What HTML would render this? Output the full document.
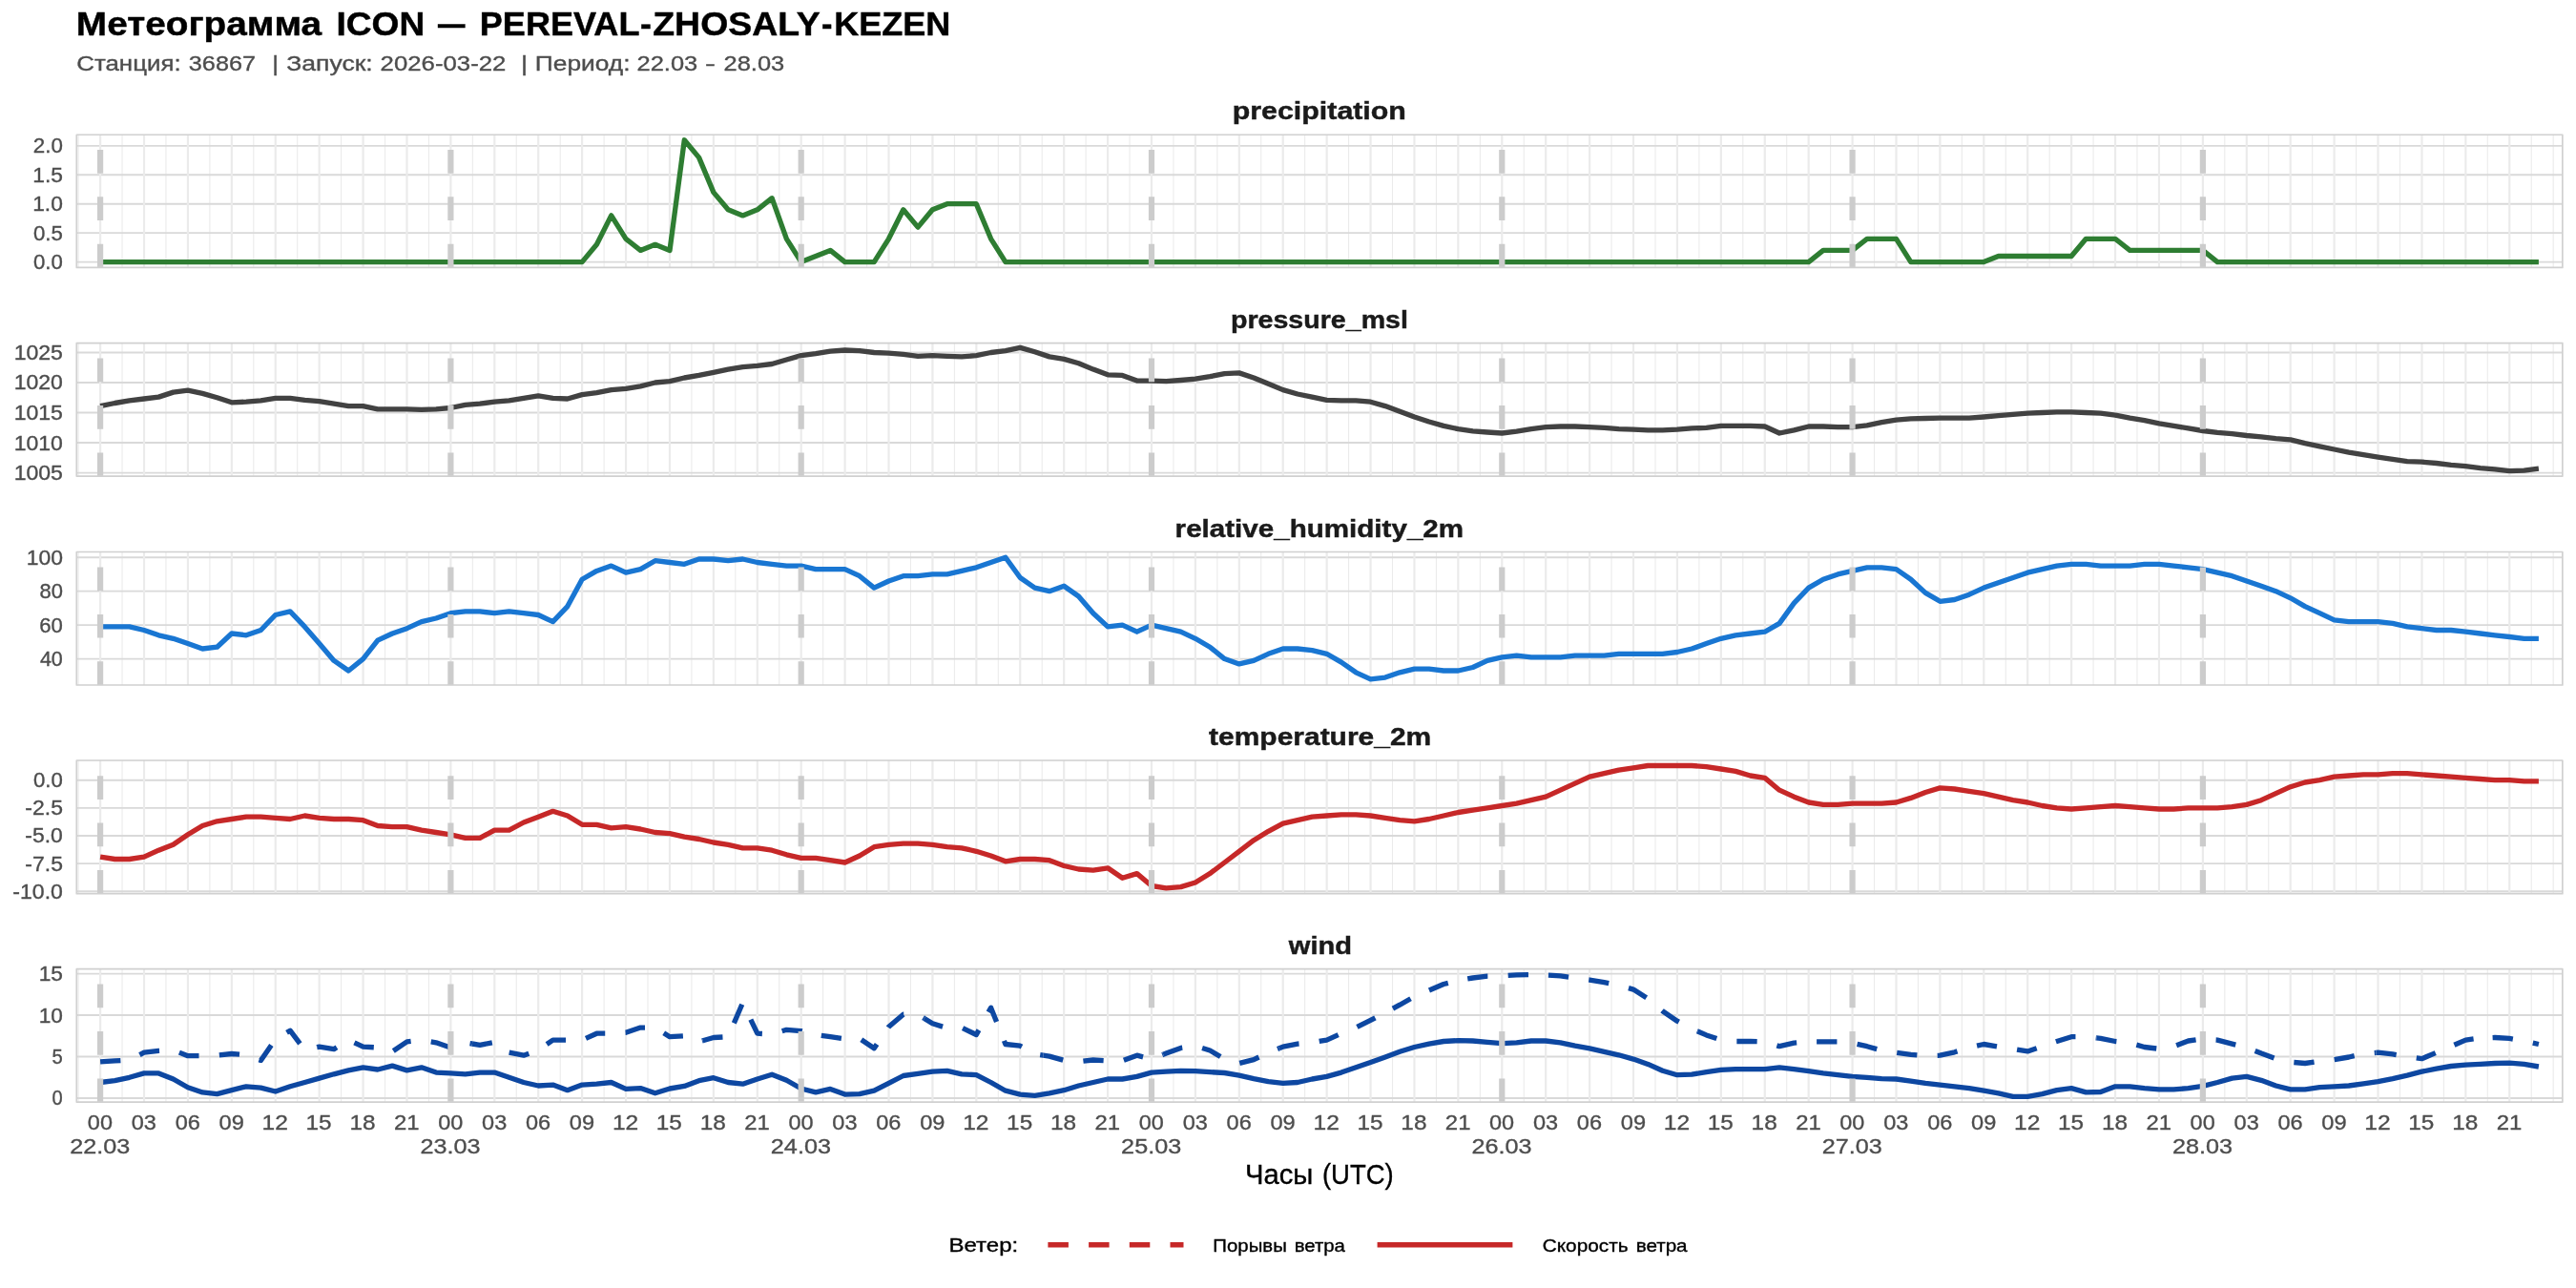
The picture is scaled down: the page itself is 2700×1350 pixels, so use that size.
<!DOCTYPE html>
<html lang="ru"><head><meta charset="utf-8"><title>Метеограмма ICON — PEREVAL-ZHOSALY-KEZEN</title>
<style>html,body{margin:0;padding:0;background:#fff;}body{width:2700px;height:1350px;overflow:hidden;}svg{display:block;will-change:transform;}text{font-family:"Liberation Sans", sans-serif;}</style></head><body>
<svg width="2700" height="1350" viewBox="0 0 2700 1350">
<rect x="0" y="0" width="2700" height="1350" fill="#ffffff"/>
<text x="79.88" y="36.70" font-size="35.30" font-weight="700" stroke="#000000" stroke-width="0.45" fill="#000000" textLength="257.28" lengthAdjust="spacingAndGlyphs">Метеограмма</text>
<text x="352.49" y="36.70" font-size="35.30" font-weight="700" stroke="#000000" stroke-width="0.45" fill="#000000" textLength="92.81" lengthAdjust="spacingAndGlyphs">ICON</text>
<text x="459.10" y="36.70" font-size="35.30" font-weight="700" stroke="#000000" stroke-width="0.45" fill="#000000" textLength="28.40" lengthAdjust="spacingAndGlyphs">—</text>
<text x="502.77" y="36.70" font-size="35.30" font-weight="700" stroke="#000000" stroke-width="0.45" fill="#000000" textLength="167.67" lengthAdjust="spacingAndGlyphs">PEREVAL</text>
<text x="671.07" y="36.70" font-size="35.30" font-weight="700" stroke="#000000" stroke-width="0.45" fill="#000000" textLength="11.87" lengthAdjust="spacingAndGlyphs">-</text>
<text x="684.28" y="36.70" font-size="35.30" font-weight="700" stroke="#000000" stroke-width="0.45" fill="#000000" textLength="175.33" lengthAdjust="spacingAndGlyphs">ZHOSALY</text>
<text x="861.12" y="36.70" font-size="35.30" font-weight="700" stroke="#000000" stroke-width="0.45" fill="#000000" textLength="11.47" lengthAdjust="spacingAndGlyphs">-</text>
<text x="874.17" y="36.70" font-size="35.30" font-weight="700" stroke="#000000" stroke-width="0.45" fill="#000000" textLength="122.24" lengthAdjust="spacingAndGlyphs">KEZEN</text>
<text x="80.21" y="73.90" font-size="22.10" stroke="#4D4D4D" stroke-width="0.35" fill="#4D4D4D" textLength="109.44" lengthAdjust="spacingAndGlyphs">Станция:</text>
<text x="197.85" y="73.90" font-size="22.10" stroke="#4D4D4D" stroke-width="0.35" fill="#4D4D4D" textLength="70.13" lengthAdjust="spacingAndGlyphs">36867</text>
<text x="285.34" y="73.90" font-size="22.10" stroke="#4D4D4D" stroke-width="0.35" fill="#4D4D4D" textLength="6.82" lengthAdjust="spacingAndGlyphs">|</text>
<text x="300.34" y="73.90" font-size="22.10" stroke="#4D4D4D" stroke-width="0.35" fill="#4D4D4D" textLength="90.37" lengthAdjust="spacingAndGlyphs">Запуск:</text>
<text x="398.61" y="73.90" font-size="22.10" stroke="#4D4D4D" stroke-width="0.35" fill="#4D4D4D" textLength="131.79" lengthAdjust="spacingAndGlyphs">2026-03-22</text>
<text x="546.02" y="73.90" font-size="22.10" stroke="#4D4D4D" stroke-width="0.35" fill="#4D4D4D" textLength="7.14" lengthAdjust="spacingAndGlyphs">|</text>
<text x="560.79" y="73.90" font-size="22.10" stroke="#4D4D4D" stroke-width="0.35" fill="#4D4D4D" textLength="99.79" lengthAdjust="spacingAndGlyphs">Период:</text>
<text x="667.53" y="73.90" font-size="22.10" stroke="#4D4D4D" stroke-width="0.35" fill="#4D4D4D" textLength="63.76" lengthAdjust="spacingAndGlyphs">22.03</text>
<text x="740.30" y="73.90" font-size="22.10" stroke="#4D4D4D" stroke-width="0.35" fill="#4D4D4D" textLength="8.42" lengthAdjust="spacingAndGlyphs">–</text>
<text x="758.53" y="73.90" font-size="22.10" stroke="#4D4D4D" stroke-width="0.35" fill="#4D4D4D" textLength="63.76" lengthAdjust="spacingAndGlyphs">28.03</text>
<g>
<clipPath id="cp0"><rect x="80.30" y="141.25" width="2605.55" height="139.20"/></clipPath>
<g clip-path="url(#cp0)">
<path d="M82.14 141.25V280.45M128.06 141.25V280.45M173.97 141.25V280.45M219.88 141.25V280.45M265.79 141.25V280.45M311.70 141.25V280.45M357.62 141.25V280.45M403.53 141.25V280.45M449.44 141.25V280.45M495.35 141.25V280.45M541.26 141.25V280.45M587.18 141.25V280.45M633.09 141.25V280.45M679.00 141.25V280.45M724.91 141.25V280.45M770.82 141.25V280.45M816.74 141.25V280.45M862.65 141.25V280.45M908.56 141.25V280.45M954.47 141.25V280.45M1000.38 141.25V280.45M1046.30 141.25V280.45M1092.21 141.25V280.45M1138.12 141.25V280.45M1184.03 141.25V280.45M1229.94 141.25V280.45M1275.86 141.25V280.45M1321.77 141.25V280.45M1367.68 141.25V280.45M1413.59 141.25V280.45M1459.50 141.25V280.45M1505.42 141.25V280.45M1551.33 141.25V280.45M1597.24 141.25V280.45M1643.15 141.25V280.45M1689.06 141.25V280.45M1734.98 141.25V280.45M1780.89 141.25V280.45M1826.80 141.25V280.45M1872.71 141.25V280.45M1918.62 141.25V280.45M1964.54 141.25V280.45M2010.45 141.25V280.45M2056.36 141.25V280.45M2102.27 141.25V280.45M2148.18 141.25V280.45M2194.10 141.25V280.45M2240.01 141.25V280.45M2285.92 141.25V280.45M2331.83 141.25V280.45M2377.74 141.25V280.45M2423.66 141.25V280.45M2469.57 141.25V280.45M2515.48 141.25V280.45M2561.39 141.25V280.45M2607.30 141.25V280.45M2653.22 141.25V280.45M2676.17 141.25V280.45" stroke="#EBEBEB" stroke-width="1.1" fill="none"/>
<path d="M80.30 274.60H2685.85M80.30 244.17H2685.85M80.30 213.74H2685.85M80.30 183.31H2685.85M80.30 152.88H2685.85" stroke="#D9D9D9" stroke-width="1.9" fill="none"/>
<path d="M105.10 141.25V280.45M151.01 141.25V280.45M196.92 141.25V280.45M242.84 141.25V280.45M288.75 141.25V280.45M334.66 141.25V280.45M380.57 141.25V280.45M426.48 141.25V280.45M472.40 141.25V280.45M518.31 141.25V280.45M564.22 141.25V280.45M610.13 141.25V280.45M656.04 141.25V280.45M701.96 141.25V280.45M747.87 141.25V280.45M793.78 141.25V280.45M839.69 141.25V280.45M885.60 141.25V280.45M931.52 141.25V280.45M977.43 141.25V280.45M1023.34 141.25V280.45M1069.25 141.25V280.45M1115.16 141.25V280.45M1161.08 141.25V280.45M1206.99 141.25V280.45M1252.90 141.25V280.45M1298.81 141.25V280.45M1344.72 141.25V280.45M1390.64 141.25V280.45M1436.55 141.25V280.45M1482.46 141.25V280.45M1528.37 141.25V280.45M1574.28 141.25V280.45M1620.20 141.25V280.45M1666.11 141.25V280.45M1712.02 141.25V280.45M1757.93 141.25V280.45M1803.84 141.25V280.45M1849.76 141.25V280.45M1895.67 141.25V280.45M1941.58 141.25V280.45M1987.49 141.25V280.45M2033.40 141.25V280.45M2079.32 141.25V280.45M2125.23 141.25V280.45M2171.14 141.25V280.45M2217.05 141.25V280.45M2262.96 141.25V280.45M2308.88 141.25V280.45M2354.79 141.25V280.45M2400.70 141.25V280.45M2446.61 141.25V280.45M2492.52 141.25V280.45M2538.44 141.25V280.45M2584.35 141.25V280.45M2630.26 141.25V280.45" stroke="#EBEBEB" stroke-width="2.2" fill="none"/>
<polyline points="105.1,274.6 120.4,274.6 135.7,274.6 151.0,274.6 166.3,274.6 181.6,274.6 196.9,274.6 212.2,274.6 227.5,274.6 242.8,274.6 258.1,274.6 273.4,274.6 288.7,274.6 304.1,274.6 319.4,274.6 334.7,274.6 350.0,274.6 365.3,274.6 380.6,274.6 395.9,274.6 411.2,274.6 426.5,274.6 441.8,274.6 457.1,274.6 472.4,274.6 487.7,274.6 503.0,274.6 518.3,274.6 533.6,274.6 548.9,274.6 564.2,274.6 579.5,274.6 594.8,274.6 610.1,274.6 625.4,256.3 640.7,225.9 656.0,250.3 671.3,262.4 686.7,256.3 702.0,262.4 717.3,146.8 732.6,165.1 747.9,201.6 763.2,219.8 778.5,225.9 793.8,219.8 809.1,207.7 824.4,250.3 839.7,274.6 855.0,268.5 870.3,262.4 885.6,274.6 900.9,274.6 916.2,274.6 931.5,250.3 946.8,219.8 962.1,238.1 977.4,219.8 992.7,213.7 1008.0,213.7 1023.3,213.7 1038.6,250.3 1053.9,274.6 1069.3,274.6 1084.6,274.6 1099.9,274.6 1115.2,274.6 1130.5,274.6 1145.8,274.6 1161.1,274.6 1176.4,274.6 1191.7,274.6 1207.0,274.6 1222.3,274.6 1237.6,274.6 1252.9,274.6 1268.2,274.6 1283.5,274.6 1298.8,274.6 1314.1,274.6 1329.4,274.6 1344.7,274.6 1360.0,274.6 1375.3,274.6 1390.6,274.6 1405.9,274.6 1421.2,274.6 1436.5,274.6 1451.9,274.6 1467.2,274.6 1482.5,274.6 1497.8,274.6 1513.1,274.6 1528.4,274.6 1543.7,274.6 1559.0,274.6 1574.3,274.6 1589.6,274.6 1604.9,274.6 1620.2,274.6 1635.5,274.6 1650.8,274.6 1666.1,274.6 1681.4,274.6 1696.7,274.6 1712.0,274.6 1727.3,274.6 1742.6,274.6 1757.9,274.6 1773.2,274.6 1788.5,274.6 1803.8,274.6 1819.1,274.6 1834.5,274.6 1849.8,274.6 1865.1,274.6 1880.4,274.6 1895.7,274.6 1911.0,262.4 1926.3,262.4 1941.6,262.4 1956.9,250.3 1972.2,250.3 1987.5,250.3 2002.8,274.6 2018.1,274.6 2033.4,274.6 2048.7,274.6 2064.0,274.6 2079.3,274.6 2094.6,268.5 2109.9,268.5 2125.2,268.5 2140.5,268.5 2155.8,268.5 2171.1,268.5 2186.4,250.3 2201.7,250.3 2217.1,250.3 2232.4,262.4 2247.7,262.4 2263.0,262.4 2278.3,262.4 2293.6,262.4 2308.9,262.4 2324.2,274.6 2339.5,274.6 2354.8,274.6 2370.1,274.6 2385.4,274.6 2400.7,274.6 2416.0,274.6 2431.3,274.6 2446.6,274.6 2461.9,274.6 2477.2,274.6 2492.5,274.6 2507.8,274.6 2523.1,274.6 2538.4,274.6 2553.7,274.6 2569.0,274.6 2584.3,274.6 2599.7,274.6 2615.0,274.6 2630.3,274.6 2645.6,274.6 2660.9,274.6" fill="none" stroke="#2E7D32" stroke-width="5.33" stroke-linejoin="round" stroke-linecap="butt"/>
<path d="M105.10 280.45V141.25M472.40 280.45V141.25M839.69 280.45V141.25M1206.99 280.45V141.25M1574.28 280.45V141.25M1941.58 280.45V141.25M2308.88 280.45V141.25" stroke="#CCCCCC" stroke-width="6.2" stroke-dasharray="24.7 24.7" fill="none"/>
</g>
<rect x="80.30" y="141.25" width="2605.55" height="139.20" fill="none" stroke="#D0D0D0" stroke-width="1.7" stroke-linejoin="round"/>
<text x="1291.78" y="125.45" font-size="26.20" font-weight="700" stroke="#1A1A1A" stroke-width="0.45" fill="#1A1A1A" textLength="182.11" lengthAdjust="spacingAndGlyphs">precipitation</text>
<text x="35.01" y="282.05" font-size="21.40" stroke="#4D4D4D" stroke-width="0.35" fill="#4D4D4D" textLength="30.82" lengthAdjust="spacingAndGlyphs">0.0</text>
<text x="35.01" y="251.62" font-size="21.40" stroke="#4D4D4D" stroke-width="0.35" fill="#4D4D4D" textLength="30.88" lengthAdjust="spacingAndGlyphs">0.5</text>
<text x="34.19" y="221.19" font-size="21.40" stroke="#4D4D4D" stroke-width="0.35" fill="#4D4D4D" textLength="31.67" lengthAdjust="spacingAndGlyphs">1.0</text>
<text x="34.19" y="190.76" font-size="21.40" stroke="#4D4D4D" stroke-width="0.35" fill="#4D4D4D" textLength="31.73" lengthAdjust="spacingAndGlyphs">1.5</text>
<text x="34.78" y="160.33" font-size="21.40" stroke="#4D4D4D" stroke-width="0.35" fill="#4D4D4D" textLength="31.06" lengthAdjust="spacingAndGlyphs">2.0</text>
</g>
<g>
<clipPath id="cp1"><rect x="80.30" y="359.60" width="2605.55" height="139.50"/></clipPath>
<g clip-path="url(#cp1)">
<path d="M82.14 359.60V499.10M128.06 359.60V499.10M173.97 359.60V499.10M219.88 359.60V499.10M265.79 359.60V499.10M311.70 359.60V499.10M357.62 359.60V499.10M403.53 359.60V499.10M449.44 359.60V499.10M495.35 359.60V499.10M541.26 359.60V499.10M587.18 359.60V499.10M633.09 359.60V499.10M679.00 359.60V499.10M724.91 359.60V499.10M770.82 359.60V499.10M816.74 359.60V499.10M862.65 359.60V499.10M908.56 359.60V499.10M954.47 359.60V499.10M1000.38 359.60V499.10M1046.30 359.60V499.10M1092.21 359.60V499.10M1138.12 359.60V499.10M1184.03 359.60V499.10M1229.94 359.60V499.10M1275.86 359.60V499.10M1321.77 359.60V499.10M1367.68 359.60V499.10M1413.59 359.60V499.10M1459.50 359.60V499.10M1505.42 359.60V499.10M1551.33 359.60V499.10M1597.24 359.60V499.10M1643.15 359.60V499.10M1689.06 359.60V499.10M1734.98 359.60V499.10M1780.89 359.60V499.10M1826.80 359.60V499.10M1872.71 359.60V499.10M1918.62 359.60V499.10M1964.54 359.60V499.10M2010.45 359.60V499.10M2056.36 359.60V499.10M2102.27 359.60V499.10M2148.18 359.60V499.10M2194.10 359.60V499.10M2240.01 359.60V499.10M2285.92 359.60V499.10M2331.83 359.60V499.10M2377.74 359.60V499.10M2423.66 359.60V499.10M2469.57 359.60V499.10M2515.48 359.60V499.10M2561.39 359.60V499.10M2607.30 359.60V499.10M2653.22 359.60V499.10M2676.17 359.60V499.10" stroke="#EBEBEB" stroke-width="1.1" fill="none"/>
<path d="M80.30 495.60H2685.85M80.30 464.07H2685.85M80.30 432.54H2685.85M80.30 401.01H2685.85M80.30 369.48H2685.85" stroke="#D9D9D9" stroke-width="1.9" fill="none"/>
<path d="M105.10 359.60V499.10M151.01 359.60V499.10M196.92 359.60V499.10M242.84 359.60V499.10M288.75 359.60V499.10M334.66 359.60V499.10M380.57 359.60V499.10M426.48 359.60V499.10M472.40 359.60V499.10M518.31 359.60V499.10M564.22 359.60V499.10M610.13 359.60V499.10M656.04 359.60V499.10M701.96 359.60V499.10M747.87 359.60V499.10M793.78 359.60V499.10M839.69 359.60V499.10M885.60 359.60V499.10M931.52 359.60V499.10M977.43 359.60V499.10M1023.34 359.60V499.10M1069.25 359.60V499.10M1115.16 359.60V499.10M1161.08 359.60V499.10M1206.99 359.60V499.10M1252.90 359.60V499.10M1298.81 359.60V499.10M1344.72 359.60V499.10M1390.64 359.60V499.10M1436.55 359.60V499.10M1482.46 359.60V499.10M1528.37 359.60V499.10M1574.28 359.60V499.10M1620.20 359.60V499.10M1666.11 359.60V499.10M1712.02 359.60V499.10M1757.93 359.60V499.10M1803.84 359.60V499.10M1849.76 359.60V499.10M1895.67 359.60V499.10M1941.58 359.60V499.10M1987.49 359.60V499.10M2033.40 359.60V499.10M2079.32 359.60V499.10M2125.23 359.60V499.10M2171.14 359.60V499.10M2217.05 359.60V499.10M2262.96 359.60V499.10M2308.88 359.60V499.10M2354.79 359.60V499.10M2400.70 359.60V499.10M2446.61 359.60V499.10M2492.52 359.60V499.10M2538.44 359.60V499.10M2584.35 359.60V499.10M2630.26 359.60V499.10" stroke="#EBEBEB" stroke-width="2.2" fill="none"/>
<polyline points="105.1,425.6 120.4,422.5 135.7,419.9 151.0,418.0 166.3,416.1 181.6,411.1 196.9,409.2 212.2,412.4 227.5,416.8 242.8,421.8 258.1,421.2 273.4,419.9 288.7,417.4 304.1,417.4 319.4,419.3 334.7,420.6 350.0,423.1 365.3,425.6 380.6,425.6 395.9,428.8 411.2,428.8 426.5,428.8 441.8,429.4 457.1,428.8 472.4,427.5 487.7,424.3 503.0,423.1 518.3,421.2 533.6,419.9 548.9,417.4 564.2,414.9 579.5,417.4 594.8,418.0 610.1,413.6 625.4,411.7 640.7,408.6 656.0,407.3 671.3,404.8 686.7,401.0 702.0,399.7 717.3,396.0 732.6,393.4 747.9,390.3 763.2,387.1 778.5,384.6 793.8,383.4 809.1,381.5 824.4,377.0 839.7,372.6 855.0,370.7 870.3,368.2 885.6,367.0 900.9,367.6 916.2,369.5 931.5,370.1 946.8,371.4 962.1,373.3 977.4,372.6 992.7,373.3 1008.0,373.9 1023.3,372.6 1038.6,369.5 1053.9,367.6 1069.3,364.4 1084.6,368.8 1099.9,373.9 1115.2,376.4 1130.5,380.8 1145.8,387.1 1161.1,392.8 1176.4,393.4 1191.7,399.1 1207.0,399.1 1222.3,399.7 1237.6,398.5 1252.9,397.2 1268.2,394.7 1283.5,391.6 1298.8,390.9 1314.1,396.0 1329.4,402.3 1344.7,408.6 1360.0,413.0 1375.3,416.1 1390.6,419.3 1405.9,419.9 1421.2,419.9 1436.5,421.2 1451.9,425.6 1467.2,431.3 1482.5,437.0 1497.8,442.0 1513.1,446.4 1528.4,449.6 1543.7,451.8 1559.0,453.0 1574.3,454.0 1589.6,452.1 1604.9,449.6 1620.2,447.7 1635.5,447.0 1650.8,447.0 1666.1,447.7 1681.4,448.3 1696.7,449.6 1712.0,450.2 1727.3,450.8 1742.6,450.8 1757.9,450.2 1773.2,448.9 1788.5,448.3 1803.8,446.4 1819.1,446.4 1834.5,446.4 1849.8,447.0 1865.1,454.0 1880.4,450.8 1895.7,447.0 1911.0,447.0 1926.3,447.7 1941.6,447.7 1956.9,445.8 1972.2,442.6 1987.5,440.1 2002.8,438.8 2018.1,438.5 2033.4,438.2 2048.7,438.2 2064.0,438.2 2079.3,437.0 2094.6,435.7 2109.9,434.4 2125.2,433.2 2140.5,432.5 2155.8,431.9 2171.1,431.9 2186.4,432.5 2201.7,433.2 2217.1,435.1 2232.4,438.2 2247.7,440.7 2263.0,443.9 2278.3,446.4 2293.6,448.9 2308.9,451.5 2324.2,453.3 2339.5,454.6 2354.8,456.5 2370.1,457.8 2385.4,459.7 2400.7,460.9 2416.0,464.7 2431.3,467.9 2446.6,471.0 2461.9,474.2 2477.2,476.7 2492.5,479.2 2507.8,481.4 2523.1,483.6 2538.4,484.2 2553.7,485.5 2569.0,487.4 2584.3,488.7 2599.7,490.6 2615.0,491.8 2630.3,493.7 2645.6,493.1 2660.9,491.2" fill="none" stroke="#424242" stroke-width="5.33" stroke-linejoin="round" stroke-linecap="butt"/>
<path d="M105.10 499.10V359.60M472.40 499.10V359.60M839.69 499.10V359.60M1206.99 499.10V359.60M1574.28 499.10V359.60M1941.58 499.10V359.60M2308.88 499.10V359.60" stroke="#CCCCCC" stroke-width="6.2" stroke-dasharray="24.7 24.7" fill="none"/>
</g>
<rect x="80.30" y="359.60" width="2605.55" height="139.50" fill="none" stroke="#D0D0D0" stroke-width="1.7" stroke-linejoin="round"/>
<text x="1289.99" y="343.80" font-size="26.20" font-weight="700" stroke="#1A1A1A" stroke-width="0.45" fill="#1A1A1A" textLength="185.93" lengthAdjust="spacingAndGlyphs">pressure_msl</text>
<text x="14.67" y="503.05" font-size="21.40" stroke="#4D4D4D" stroke-width="0.35" fill="#4D4D4D" textLength="51.30" lengthAdjust="spacingAndGlyphs">1005</text>
<text x="14.67" y="471.52" font-size="21.40" stroke="#4D4D4D" stroke-width="0.35" fill="#4D4D4D" textLength="51.24" lengthAdjust="spacingAndGlyphs">1010</text>
<text x="14.67" y="439.99" font-size="21.40" stroke="#4D4D4D" stroke-width="0.35" fill="#4D4D4D" textLength="51.30" lengthAdjust="spacingAndGlyphs">1015</text>
<text x="14.67" y="408.46" font-size="21.40" stroke="#4D4D4D" stroke-width="0.35" fill="#4D4D4D" textLength="51.24" lengthAdjust="spacingAndGlyphs">1020</text>
<text x="14.67" y="376.93" font-size="21.40" stroke="#4D4D4D" stroke-width="0.35" fill="#4D4D4D" textLength="51.30" lengthAdjust="spacingAndGlyphs">1025</text>
</g>
<g>
<clipPath id="cp2"><rect x="80.30" y="578.50" width="2605.55" height="139.50"/></clipPath>
<g clip-path="url(#cp2)">
<path d="M82.14 578.50V718.00M128.06 578.50V718.00M173.97 578.50V718.00M219.88 578.50V718.00M265.79 578.50V718.00M311.70 578.50V718.00M357.62 578.50V718.00M403.53 578.50V718.00M449.44 578.50V718.00M495.35 578.50V718.00M541.26 578.50V718.00M587.18 578.50V718.00M633.09 578.50V718.00M679.00 578.50V718.00M724.91 578.50V718.00M770.82 578.50V718.00M816.74 578.50V718.00M862.65 578.50V718.00M908.56 578.50V718.00M954.47 578.50V718.00M1000.38 578.50V718.00M1046.30 578.50V718.00M1092.21 578.50V718.00M1138.12 578.50V718.00M1184.03 578.50V718.00M1229.94 578.50V718.00M1275.86 578.50V718.00M1321.77 578.50V718.00M1367.68 578.50V718.00M1413.59 578.50V718.00M1459.50 578.50V718.00M1505.42 578.50V718.00M1551.33 578.50V718.00M1597.24 578.50V718.00M1643.15 578.50V718.00M1689.06 578.50V718.00M1734.98 578.50V718.00M1780.89 578.50V718.00M1826.80 578.50V718.00M1872.71 578.50V718.00M1918.62 578.50V718.00M1964.54 578.50V718.00M2010.45 578.50V718.00M2056.36 578.50V718.00M2102.27 578.50V718.00M2148.18 578.50V718.00M2194.10 578.50V718.00M2240.01 578.50V718.00M2285.92 578.50V718.00M2331.83 578.50V718.00M2377.74 578.50V718.00M2423.66 578.50V718.00M2469.57 578.50V718.00M2515.48 578.50V718.00M2561.39 578.50V718.00M2607.30 578.50V718.00M2653.22 578.50V718.00M2676.17 578.50V718.00" stroke="#EBEBEB" stroke-width="1.1" fill="none"/>
<path d="M80.30 690.60H2685.85M80.30 655.13H2685.85M80.30 619.66H2685.85M80.30 584.19H2685.85" stroke="#D9D9D9" stroke-width="1.9" fill="none"/>
<path d="M105.10 578.50V718.00M151.01 578.50V718.00M196.92 578.50V718.00M242.84 578.50V718.00M288.75 578.50V718.00M334.66 578.50V718.00M380.57 578.50V718.00M426.48 578.50V718.00M472.40 578.50V718.00M518.31 578.50V718.00M564.22 578.50V718.00M610.13 578.50V718.00M656.04 578.50V718.00M701.96 578.50V718.00M747.87 578.50V718.00M793.78 578.50V718.00M839.69 578.50V718.00M885.60 578.50V718.00M931.52 578.50V718.00M977.43 578.50V718.00M1023.34 578.50V718.00M1069.25 578.50V718.00M1115.16 578.50V718.00M1161.08 578.50V718.00M1206.99 578.50V718.00M1252.90 578.50V718.00M1298.81 578.50V718.00M1344.72 578.50V718.00M1390.64 578.50V718.00M1436.55 578.50V718.00M1482.46 578.50V718.00M1528.37 578.50V718.00M1574.28 578.50V718.00M1620.20 578.50V718.00M1666.11 578.50V718.00M1712.02 578.50V718.00M1757.93 578.50V718.00M1803.84 578.50V718.00M1849.76 578.50V718.00M1895.67 578.50V718.00M1941.58 578.50V718.00M1987.49 578.50V718.00M2033.40 578.50V718.00M2079.32 578.50V718.00M2125.23 578.50V718.00M2171.14 578.50V718.00M2217.05 578.50V718.00M2262.96 578.50V718.00M2308.88 578.50V718.00M2354.79 578.50V718.00M2400.70 578.50V718.00M2446.61 578.50V718.00M2492.52 578.50V718.00M2538.44 578.50V718.00M2584.35 578.50V718.00M2630.26 578.50V718.00" stroke="#EBEBEB" stroke-width="2.2" fill="none"/>
<polyline points="105.1,656.9 120.4,656.9 135.7,656.9 151.0,660.5 166.3,665.8 181.6,669.3 196.9,674.6 212.2,680.0 227.5,678.2 242.8,664.0 258.1,665.8 273.4,660.5 288.7,644.5 304.1,640.9 319.4,656.9 334.7,674.6 350.0,692.4 365.3,703.0 380.6,690.6 395.9,671.1 411.2,664.0 426.5,658.7 441.8,651.6 457.1,648.0 472.4,642.7 487.7,640.9 503.0,640.9 518.3,642.7 533.6,640.9 548.9,642.7 564.2,644.5 579.5,651.6 594.8,635.6 610.1,607.2 625.4,598.4 640.7,593.1 656.0,600.2 671.3,596.6 686.7,587.7 702.0,589.5 717.3,591.3 732.6,586.0 747.9,586.0 763.2,587.7 778.5,586.0 793.8,589.5 809.1,591.3 824.4,593.1 839.7,593.1 855.0,596.6 870.3,596.6 885.6,596.6 900.9,603.7 916.2,616.1 931.5,609.0 946.8,603.7 962.1,603.7 977.4,601.9 992.7,601.9 1008.0,598.4 1023.3,594.8 1038.6,589.5 1053.9,584.2 1069.3,605.5 1084.6,616.1 1099.9,619.7 1115.2,614.3 1130.5,625.0 1145.8,642.7 1161.1,656.9 1176.4,655.1 1191.7,662.2 1207.0,655.1 1222.3,658.7 1237.6,662.2 1252.9,669.3 1268.2,678.2 1283.5,690.6 1298.8,695.9 1314.1,692.4 1329.4,685.3 1344.7,680.0 1360.0,680.0 1375.3,681.7 1390.6,685.3 1405.9,694.1 1421.2,704.8 1436.5,711.9 1451.9,710.1 1467.2,704.8 1482.5,701.2 1497.8,701.2 1513.1,703.0 1528.4,703.0 1543.7,699.5 1559.0,692.4 1574.3,688.8 1589.6,687.1 1604.9,688.8 1620.2,688.8 1635.5,688.8 1650.8,687.1 1666.1,687.1 1681.4,687.1 1696.7,685.3 1712.0,685.3 1727.3,685.3 1742.6,685.3 1757.9,683.5 1773.2,680.0 1788.5,674.6 1803.8,669.3 1819.1,665.8 1834.5,664.0 1849.8,662.2 1865.1,653.4 1880.4,632.1 1895.7,616.1 1911.0,607.2 1926.3,601.9 1941.6,598.4 1956.9,594.8 1972.2,594.8 1987.5,596.6 2002.8,607.2 2018.1,621.4 2033.4,630.3 2048.7,628.5 2064.0,623.2 2079.3,616.1 2094.6,610.8 2109.9,605.5 2125.2,600.2 2140.5,596.6 2155.8,593.1 2171.1,591.3 2186.4,591.3 2201.7,593.1 2217.1,593.1 2232.4,593.1 2247.7,591.3 2263.0,591.3 2278.3,593.1 2293.6,594.8 2308.9,596.6 2324.2,600.2 2339.5,603.7 2354.8,609.0 2370.1,614.3 2385.4,619.7 2400.7,626.8 2416.0,635.6 2431.3,642.7 2446.6,649.8 2461.9,651.6 2477.2,651.6 2492.5,651.6 2507.8,653.4 2523.1,656.9 2538.4,658.7 2553.7,660.5 2569.0,660.5 2584.3,662.2 2599.7,664.0 2615.0,665.8 2630.3,667.5 2645.6,669.3 2660.9,669.3" fill="none" stroke="#1976D2" stroke-width="5.33" stroke-linejoin="round" stroke-linecap="butt"/>
<path d="M105.10 718.00V578.50M472.40 718.00V578.50M839.69 718.00V578.50M1206.99 718.00V578.50M1574.28 718.00V578.50M1941.58 718.00V578.50M2308.88 718.00V578.50" stroke="#CCCCCC" stroke-width="6.2" stroke-dasharray="24.7 24.7" fill="none"/>
</g>
<rect x="80.30" y="578.50" width="2605.55" height="139.50" fill="none" stroke="#D0D0D0" stroke-width="1.7" stroke-linejoin="round"/>
<text x="1231.63" y="562.70" font-size="26.20" font-weight="700" stroke="#1A1A1A" stroke-width="0.45" fill="#1A1A1A" textLength="302.45" lengthAdjust="spacingAndGlyphs">relative_humidity_2m</text>
<text x="41.92" y="698.05" font-size="21.40" stroke="#4D4D4D" stroke-width="0.35" fill="#4D4D4D" textLength="23.94" lengthAdjust="spacingAndGlyphs">40</text>
<text x="41.29" y="662.58" font-size="21.40" stroke="#4D4D4D" stroke-width="0.35" fill="#4D4D4D" textLength="24.59" lengthAdjust="spacingAndGlyphs">60</text>
<text x="41.47" y="627.11" font-size="21.40" stroke="#4D4D4D" stroke-width="0.35" fill="#4D4D4D" textLength="24.41" lengthAdjust="spacingAndGlyphs">80</text>
<text x="27.68" y="591.64" font-size="21.40" stroke="#4D4D4D" stroke-width="0.35" fill="#4D4D4D" textLength="38.20" lengthAdjust="spacingAndGlyphs">100</text>
</g>
<g>
<clipPath id="cp3"><rect x="80.30" y="797.00" width="2605.55" height="139.70"/></clipPath>
<g clip-path="url(#cp3)">
<path d="M82.14 797.00V936.70M128.06 797.00V936.70M173.97 797.00V936.70M219.88 797.00V936.70M265.79 797.00V936.70M311.70 797.00V936.70M357.62 797.00V936.70M403.53 797.00V936.70M449.44 797.00V936.70M495.35 797.00V936.70M541.26 797.00V936.70M587.18 797.00V936.70M633.09 797.00V936.70M679.00 797.00V936.70M724.91 797.00V936.70M770.82 797.00V936.70M816.74 797.00V936.70M862.65 797.00V936.70M908.56 797.00V936.70M954.47 797.00V936.70M1000.38 797.00V936.70M1046.30 797.00V936.70M1092.21 797.00V936.70M1138.12 797.00V936.70M1184.03 797.00V936.70M1229.94 797.00V936.70M1275.86 797.00V936.70M1321.77 797.00V936.70M1367.68 797.00V936.70M1413.59 797.00V936.70M1459.50 797.00V936.70M1505.42 797.00V936.70M1551.33 797.00V936.70M1597.24 797.00V936.70M1643.15 797.00V936.70M1689.06 797.00V936.70M1734.98 797.00V936.70M1780.89 797.00V936.70M1826.80 797.00V936.70M1872.71 797.00V936.70M1918.62 797.00V936.70M1964.54 797.00V936.70M2010.45 797.00V936.70M2056.36 797.00V936.70M2102.27 797.00V936.70M2148.18 797.00V936.70M2194.10 797.00V936.70M2240.01 797.00V936.70M2285.92 797.00V936.70M2331.83 797.00V936.70M2377.74 797.00V936.70M2423.66 797.00V936.70M2469.57 797.00V936.70M2515.48 797.00V936.70M2561.39 797.00V936.70M2607.30 797.00V936.70M2653.22 797.00V936.70M2676.17 797.00V936.70" stroke="#EBEBEB" stroke-width="1.1" fill="none"/>
<path d="M80.30 934.30H2685.85M80.30 905.15H2685.85M80.30 876.00H2685.85M80.30 846.85H2685.85M80.30 817.70H2685.85" stroke="#D9D9D9" stroke-width="1.9" fill="none"/>
<path d="M105.10 797.00V936.70M151.01 797.00V936.70M196.92 797.00V936.70M242.84 797.00V936.70M288.75 797.00V936.70M334.66 797.00V936.70M380.57 797.00V936.70M426.48 797.00V936.70M472.40 797.00V936.70M518.31 797.00V936.70M564.22 797.00V936.70M610.13 797.00V936.70M656.04 797.00V936.70M701.96 797.00V936.70M747.87 797.00V936.70M793.78 797.00V936.70M839.69 797.00V936.70M885.60 797.00V936.70M931.52 797.00V936.70M977.43 797.00V936.70M1023.34 797.00V936.70M1069.25 797.00V936.70M1115.16 797.00V936.70M1161.08 797.00V936.70M1206.99 797.00V936.70M1252.90 797.00V936.70M1298.81 797.00V936.70M1344.72 797.00V936.70M1390.64 797.00V936.70M1436.55 797.00V936.70M1482.46 797.00V936.70M1528.37 797.00V936.70M1574.28 797.00V936.70M1620.20 797.00V936.70M1666.11 797.00V936.70M1712.02 797.00V936.70M1757.93 797.00V936.70M1803.84 797.00V936.70M1849.76 797.00V936.70M1895.67 797.00V936.70M1941.58 797.00V936.70M1987.49 797.00V936.70M2033.40 797.00V936.70M2079.32 797.00V936.70M2125.23 797.00V936.70M2171.14 797.00V936.70M2217.05 797.00V936.70M2262.96 797.00V936.70M2308.88 797.00V936.70M2354.79 797.00V936.70M2400.70 797.00V936.70M2446.61 797.00V936.70M2492.52 797.00V936.70M2538.44 797.00V936.70M2584.35 797.00V936.70M2630.26 797.00V936.70" stroke="#EBEBEB" stroke-width="2.2" fill="none"/>
<polyline points="105.1,898.2 120.4,900.5 135.7,900.5 151.0,898.2 166.3,891.2 181.6,885.3 196.9,874.8 212.2,865.5 227.5,860.8 242.8,858.5 258.1,856.2 273.4,856.2 288.7,857.3 304.1,858.5 319.4,855.0 334.7,857.3 350.0,858.5 365.3,858.5 380.6,859.7 395.9,865.5 411.2,866.7 426.5,866.7 441.8,870.2 457.1,872.5 472.4,874.8 487.7,878.3 503.0,878.3 518.3,870.2 533.6,870.2 548.9,862.0 564.2,856.2 579.5,850.3 594.8,855.0 610.1,864.3 625.4,864.3 640.7,867.8 656.0,866.7 671.3,869.0 686.7,872.5 702.0,873.7 717.3,877.2 732.6,879.5 747.9,883.0 763.2,885.3 778.5,888.8 793.8,888.8 809.1,891.2 824.4,895.8 839.7,899.3 855.0,899.3 870.3,901.7 885.6,904.0 900.9,897.0 916.2,887.7 931.5,885.3 946.8,884.2 962.1,884.2 977.4,885.3 992.7,887.7 1008.0,888.8 1023.3,892.3 1038.6,897.0 1053.9,902.8 1069.3,900.5 1084.6,900.5 1099.9,901.7 1115.2,907.5 1130.5,911.0 1145.8,912.1 1161.1,909.8 1176.4,920.3 1191.7,915.6 1207.0,928.5 1222.3,930.8 1237.6,929.6 1252.9,925.0 1268.2,915.6 1283.5,904.0 1298.8,892.3 1314.1,880.7 1329.4,871.3 1344.7,863.2 1360.0,859.7 1375.3,856.2 1390.6,855.0 1405.9,853.8 1421.2,853.8 1436.5,855.0 1451.9,857.3 1467.2,859.7 1482.5,860.8 1497.8,858.5 1513.1,855.0 1528.4,851.5 1543.7,849.2 1559.0,846.9 1574.3,844.5 1589.6,842.2 1604.9,838.7 1620.2,835.2 1635.5,828.2 1650.8,821.2 1666.1,814.2 1681.4,810.7 1696.7,807.2 1712.0,804.9 1727.3,802.5 1742.6,802.5 1757.9,802.5 1773.2,802.5 1788.5,803.7 1803.8,806.0 1819.1,808.4 1834.5,813.0 1849.8,815.4 1865.1,828.2 1880.4,835.2 1895.7,841.0 1911.0,843.4 1926.3,843.4 1941.6,842.2 1956.9,842.2 1972.2,842.2 1987.5,841.0 2002.8,836.4 2018.1,830.5 2033.4,825.9 2048.7,827.0 2064.0,829.4 2079.3,831.7 2094.6,835.2 2109.9,838.7 2125.2,841.0 2140.5,844.5 2155.8,846.9 2171.1,848.0 2186.4,846.9 2201.7,845.7 2217.1,844.5 2232.4,845.7 2247.7,846.9 2263.0,848.0 2278.3,848.0 2293.6,846.9 2308.9,846.9 2324.2,846.9 2339.5,845.7 2354.8,843.4 2370.1,838.7 2385.4,831.7 2400.7,824.7 2416.0,820.0 2431.3,817.7 2446.6,814.2 2461.9,813.0 2477.2,811.9 2492.5,811.9 2507.8,810.7 2523.1,810.7 2538.4,811.9 2553.7,813.0 2569.0,814.2 2584.3,815.4 2599.7,816.5 2615.0,817.7 2630.3,817.7 2645.6,818.9 2660.9,818.9" fill="none" stroke="#C62828" stroke-width="5.33" stroke-linejoin="round" stroke-linecap="butt"/>
<path d="M105.10 936.70V797.00M472.40 936.70V797.00M839.69 936.70V797.00M1206.99 936.70V797.00M1574.28 936.70V797.00M1941.58 936.70V797.00M2308.88 936.70V797.00" stroke="#CCCCCC" stroke-width="6.2" stroke-dasharray="24.7 24.7" fill="none"/>
</g>
<rect x="80.30" y="797.00" width="2605.55" height="139.70" fill="none" stroke="#D0D0D0" stroke-width="1.7" stroke-linejoin="round"/>
<text x="1267.08" y="781.20" font-size="26.20" font-weight="700" stroke="#1A1A1A" stroke-width="0.45" fill="#1A1A1A" textLength="233.12" lengthAdjust="spacingAndGlyphs">temperature_2m</text>
<text x="13.36" y="941.75" font-size="21.40" stroke="#4D4D4D" stroke-width="0.35" fill="#4D4D4D" textLength="52.55" lengthAdjust="spacingAndGlyphs">-10.0</text>
<text x="26.37" y="912.60" font-size="21.40" stroke="#4D4D4D" stroke-width="0.35" fill="#4D4D4D" textLength="39.57" lengthAdjust="spacingAndGlyphs">-7.5</text>
<text x="26.37" y="883.45" font-size="21.40" stroke="#4D4D4D" stroke-width="0.35" fill="#4D4D4D" textLength="39.51" lengthAdjust="spacingAndGlyphs">-5.0</text>
<text x="26.37" y="854.30" font-size="21.40" stroke="#4D4D4D" stroke-width="0.35" fill="#4D4D4D" textLength="39.57" lengthAdjust="spacingAndGlyphs">-2.5</text>
<text x="35.01" y="825.15" font-size="21.40" stroke="#4D4D4D" stroke-width="0.35" fill="#4D4D4D" textLength="30.82" lengthAdjust="spacingAndGlyphs">0.0</text>
</g>
<g>
<clipPath id="cp4"><rect x="80.30" y="1015.60" width="2605.55" height="139.50"/></clipPath>
<g clip-path="url(#cp4)">
<path d="M82.14 1015.60V1155.10M128.06 1015.60V1155.10M173.97 1015.60V1155.10M219.88 1015.60V1155.10M265.79 1015.60V1155.10M311.70 1015.60V1155.10M357.62 1015.60V1155.10M403.53 1015.60V1155.10M449.44 1015.60V1155.10M495.35 1015.60V1155.10M541.26 1015.60V1155.10M587.18 1015.60V1155.10M633.09 1015.60V1155.10M679.00 1015.60V1155.10M724.91 1015.60V1155.10M770.82 1015.60V1155.10M816.74 1015.60V1155.10M862.65 1015.60V1155.10M908.56 1015.60V1155.10M954.47 1015.60V1155.10M1000.38 1015.60V1155.10M1046.30 1015.60V1155.10M1092.21 1015.60V1155.10M1138.12 1015.60V1155.10M1184.03 1015.60V1155.10M1229.94 1015.60V1155.10M1275.86 1015.60V1155.10M1321.77 1015.60V1155.10M1367.68 1015.60V1155.10M1413.59 1015.60V1155.10M1459.50 1015.60V1155.10M1505.42 1015.60V1155.10M1551.33 1015.60V1155.10M1597.24 1015.60V1155.10M1643.15 1015.60V1155.10M1689.06 1015.60V1155.10M1734.98 1015.60V1155.10M1780.89 1015.60V1155.10M1826.80 1015.60V1155.10M1872.71 1015.60V1155.10M1918.62 1015.60V1155.10M1964.54 1015.60V1155.10M2010.45 1015.60V1155.10M2056.36 1015.60V1155.10M2102.27 1015.60V1155.10M2148.18 1015.60V1155.10M2194.10 1015.60V1155.10M2240.01 1015.60V1155.10M2285.92 1015.60V1155.10M2331.83 1015.60V1155.10M2377.74 1015.60V1155.10M2423.66 1015.60V1155.10M2469.57 1015.60V1155.10M2515.48 1015.60V1155.10M2561.39 1015.60V1155.10M2607.30 1015.60V1155.10M2653.22 1015.60V1155.10M2676.17 1015.60V1155.10" stroke="#EBEBEB" stroke-width="1.1" fill="none"/>
<path d="M80.30 1151.00H2685.85M80.30 1107.54H2685.85M80.30 1064.07H2685.85M80.30 1020.61H2685.85" stroke="#D9D9D9" stroke-width="1.9" fill="none"/>
<path d="M105.10 1015.60V1155.10M151.01 1015.60V1155.10M196.92 1015.60V1155.10M242.84 1015.60V1155.10M288.75 1015.60V1155.10M334.66 1015.60V1155.10M380.57 1015.60V1155.10M426.48 1015.60V1155.10M472.40 1015.60V1155.10M518.31 1015.60V1155.10M564.22 1015.60V1155.10M610.13 1015.60V1155.10M656.04 1015.60V1155.10M701.96 1015.60V1155.10M747.87 1015.60V1155.10M793.78 1015.60V1155.10M839.69 1015.60V1155.10M885.60 1015.60V1155.10M931.52 1015.60V1155.10M977.43 1015.60V1155.10M1023.34 1015.60V1155.10M1069.25 1015.60V1155.10M1115.16 1015.60V1155.10M1161.08 1015.60V1155.10M1206.99 1015.60V1155.10M1252.90 1015.60V1155.10M1298.81 1015.60V1155.10M1344.72 1015.60V1155.10M1390.64 1015.60V1155.10M1436.55 1015.60V1155.10M1482.46 1015.60V1155.10M1528.37 1015.60V1155.10M1574.28 1015.60V1155.10M1620.20 1015.60V1155.10M1666.11 1015.60V1155.10M1712.02 1015.60V1155.10M1757.93 1015.60V1155.10M1803.84 1015.60V1155.10M1849.76 1015.60V1155.10M1895.67 1015.60V1155.10M1941.58 1015.60V1155.10M1987.49 1015.60V1155.10M2033.40 1015.60V1155.10M2079.32 1015.60V1155.10M2125.23 1015.60V1155.10M2171.14 1015.60V1155.10M2217.05 1015.60V1155.10M2262.96 1015.60V1155.10M2308.88 1015.60V1155.10M2354.79 1015.60V1155.10M2400.70 1015.60V1155.10M2446.61 1015.60V1155.10M2492.52 1015.60V1155.10M2538.44 1015.60V1155.10M2584.35 1015.60V1155.10M2630.26 1015.60V1155.10" stroke="#EBEBEB" stroke-width="2.2" fill="none"/>
<polyline points="105.1,1112.8 120.4,1111.9 135.7,1111.0 151.0,1103.2 166.3,1101.4 181.6,1100.6 196.9,1106.7 212.2,1106.7 227.5,1106.2 242.8,1104.5 258.1,1105.8 273.4,1111.4 288.7,1089.3 304.1,1080.2 319.4,1100.6 332.4,1097.6" fill="none" stroke="#0D47A1" stroke-width="5.33" stroke-linejoin="round" stroke-linecap="butt" stroke-dasharray="21.33 21.33"/>
<polyline points="332.4,1097.6 334.7,1097.1 350.0,1099.7 365.3,1090.1 380.6,1097.1 395.9,1098.0 411.2,1102.3 426.5,1091.9 441.8,1090.1 457.1,1092.8 472.4,1098.0 487.7,1092.8 494.9,1094.0" fill="none" stroke="#0D47A1" stroke-width="5.33" stroke-linejoin="round" stroke-linecap="butt" stroke-dasharray="21.33 21.33"/>
<polyline points="494.9,1094.0 503.0,1095.4 518.3,1092.3 533.6,1103.2 548.9,1106.2 564.2,1100.6 573.1,1094.5" fill="none" stroke="#0D47A1" stroke-width="5.33" stroke-linejoin="round" stroke-linecap="butt" stroke-dasharray="21.33 21.33"/>
<polyline points="573.1,1094.5 579.5,1090.1 594.8,1090.1 610.1,1090.1 625.4,1083.2 640.7,1083.2 656.0,1082.3 671.3,1077.1 686.7,1077.1 702.0,1086.7 717.3,1085.8 732.6,1091.9 736.6,1090.7" fill="none" stroke="#0D47A1" stroke-width="5.33" stroke-linejoin="round" stroke-linecap="butt" stroke-dasharray="21.33 21.33"/>
<polyline points="736.6,1090.7 747.9,1087.5 763.2,1086.7 778.5,1051.0 793.8,1083.2 809.1,1084.1 824.4,1079.3 839.7,1080.6 855.0,1084.5 860.8,1085.3" fill="none" stroke="#0D47A1" stroke-width="5.33" stroke-linejoin="round" stroke-linecap="butt" stroke-dasharray="21.33 21.33"/>
<polyline points="860.8,1085.3 870.3,1086.7 885.6,1088.8 900.9,1088.4 916.2,1098.8 931.5,1076.2 946.8,1063.2 962.1,1063.2 968.8,1067.4" fill="none" stroke="#0D47A1" stroke-width="5.33" stroke-linejoin="round" stroke-linecap="butt" stroke-dasharray="21.33 21.33"/>
<polyline points="968.8,1067.4 977.4,1072.8 992.7,1077.5 1008.0,1077.1 1023.3,1084.5 1038.6,1056.2 1053.9,1094.5 1069.3,1096.2 1084.6,1104.9 1093.5,1106.2" fill="none" stroke="#0D47A1" stroke-width="5.33" stroke-linejoin="round" stroke-linecap="butt" stroke-dasharray="21.33 21.33"/>
<polyline points="1093.5,1106.2 1099.9,1107.1 1115.2,1111.4 1130.5,1112.8 1145.8,1111.0 1161.1,1111.9 1176.4,1111.9 1191.7,1106.2 1207.0,1110.1 1219.2,1105.3" fill="none" stroke="#0D47A1" stroke-width="5.33" stroke-linejoin="round" stroke-linecap="butt" stroke-dasharray="21.33 21.33"/>
<polyline points="1219.2,1105.3 1222.3,1104.1 1237.6,1098.4 1252.9,1096.2 1268.2,1101.0 1283.5,1110.1 1298.8,1114.5 1314.1,1110.6 1329.4,1103.2 1340.8,1098.7" fill="none" stroke="#0D47A1" stroke-width="5.33" stroke-linejoin="round" stroke-linecap="butt" stroke-dasharray="21.33 21.33"/>
<polyline points="1340.8,1098.7 1344.7,1097.1 1360.0,1094.1 1375.3,1092.8 1390.6,1090.1 1405.9,1083.2 1421.2,1077.1 1436.5,1069.3 1451.9,1061.5 1459.9,1057.1" fill="none" stroke="#0D47A1" stroke-width="5.33" stroke-linejoin="round" stroke-linecap="butt" stroke-dasharray="21.33 21.33"/>
<polyline points="1459.9,1057.1 1467.2,1053.2 1482.5,1044.5 1497.8,1038.0 1513.1,1031.5 1528.4,1027.6 1538.2,1025.9" fill="none" stroke="#0D47A1" stroke-width="5.33" stroke-linejoin="round" stroke-linecap="butt" stroke-dasharray="21.33 21.33"/>
<polyline points="1538.2,1025.9 1543.7,1025.0 1559.0,1023.2 1574.3,1022.8 1589.6,1021.9 1604.9,1021.5 1620.2,1021.9 1622.9,1022.1" fill="none" stroke="#0D47A1" stroke-width="5.33" stroke-linejoin="round" stroke-linecap="butt" stroke-dasharray="21.33 21.33"/>
<polyline points="1622.9,1022.1 1635.5,1022.8 1650.8,1025.0 1666.1,1027.1 1681.4,1029.7 1696.7,1032.8 1712.0,1037.1 1727.3,1046.7 1742.6,1059.7 1757.9,1070.2 1773.2,1078.4 1779.4,1081.0" fill="none" stroke="#0D47A1" stroke-width="5.33" stroke-linejoin="round" stroke-linecap="butt" stroke-dasharray="21.33 21.33"/>
<polyline points="1779.4,1081.0 1788.5,1084.9 1803.8,1090.1 1819.1,1091.5 1834.5,1091.5 1849.8,1091.9 1865.1,1096.7 1880.4,1093.2 1895.7,1091.9 1904.1,1091.9" fill="none" stroke="#0D47A1" stroke-width="5.33" stroke-linejoin="round" stroke-linecap="butt" stroke-dasharray="21.33 21.33"/>
<polyline points="1904.1,1091.9 1911.0,1091.9 1926.3,1091.9 1941.6,1093.2 1956.9,1096.7 1972.2,1101.0 1987.5,1103.2 2002.8,1105.4 2018.1,1106.7 2030.7,1106.3" fill="none" stroke="#0D47A1" stroke-width="5.33" stroke-linejoin="round" stroke-linecap="butt" stroke-dasharray="21.33 21.33"/>
<polyline points="2030.7,1106.3 2033.4,1106.2 2048.7,1102.8 2064.0,1098.0 2079.3,1094.5 2094.6,1097.1 2109.9,1099.3 2125.2,1101.9 2140.5,1096.7 2155.8,1091.5 2171.1,1086.7 2186.4,1086.7 2197.4,1087.9" fill="none" stroke="#0D47A1" stroke-width="5.33" stroke-linejoin="round" stroke-linecap="butt" stroke-dasharray="21.33 21.33"/>
<polyline points="2197.4,1087.9 2201.7,1088.4 2217.1,1091.5 2232.4,1093.2 2247.7,1097.5 2263.0,1099.3 2278.3,1096.7 2293.6,1091.0 2308.9,1088.8 2322.6,1090.0" fill="none" stroke="#0D47A1" stroke-width="5.33" stroke-linejoin="round" stroke-linecap="butt" stroke-dasharray="21.33 21.33"/>
<polyline points="2322.6,1090.0 2324.2,1090.1 2339.5,1094.1 2354.8,1098.0 2370.1,1104.1 2385.4,1109.7 2400.7,1113.2 2416.0,1114.5 2431.3,1112.3 2446.6,1110.6 2461.9,1108.0 2477.2,1104.5 2490.5,1103.4" fill="none" stroke="#0D47A1" stroke-width="5.33" stroke-linejoin="round" stroke-linecap="butt" stroke-dasharray="21.33 21.33"/>
<polyline points="2490.5,1103.4 2492.5,1103.2 2507.8,1104.9 2523.1,1107.5 2538.4,1109.7 2553.7,1103.2 2569.0,1096.7 2584.3,1090.1 2599.7,1088.0 2612.6,1087.6" fill="none" stroke="#0D47A1" stroke-width="5.33" stroke-linejoin="round" stroke-linecap="butt" stroke-dasharray="21.33 21.33"/>
<polyline points="2612.6,1087.6 2615.0,1087.5 2630.3,1088.4 2645.6,1091.0 2660.9,1094.5" fill="none" stroke="#0D47A1" stroke-width="5.33" stroke-linejoin="round" stroke-linecap="butt" stroke-dasharray="21.33 21.33"/>
<polyline points="105.1,1134.5 120.4,1132.7 135.7,1129.3 151.0,1124.9 166.3,1124.9 181.6,1131.0 196.9,1139.7 212.2,1144.9 227.5,1146.7 242.8,1142.7 258.1,1138.8 273.4,1140.1 288.7,1144.0 304.1,1138.8 319.4,1134.5 334.7,1130.1 350.0,1125.8 365.3,1121.9 380.6,1118.8 395.9,1121.0 411.2,1117.1 426.5,1121.9 441.8,1118.8 457.1,1124.1 472.4,1124.9 487.7,1125.8 503.0,1124.1 518.3,1124.1 533.6,1129.3 548.9,1134.5 564.2,1138.0 579.5,1137.1 594.8,1142.7 610.1,1137.1 625.4,1136.2 640.7,1134.5 656.0,1141.4 671.3,1140.6 686.7,1145.8 702.0,1141.0 717.3,1138.4 732.6,1132.7 747.9,1129.7 763.2,1134.5 778.5,1136.2 793.8,1131.0 809.1,1126.2 824.4,1132.3 839.7,1141.0 855.0,1144.9 870.3,1141.4 885.6,1147.1 900.9,1146.7 916.2,1143.2 931.5,1135.4 946.8,1127.5 962.1,1125.4 977.4,1123.2 992.7,1122.3 1008.0,1125.8 1023.3,1126.7 1038.6,1134.5 1053.9,1143.2 1069.3,1147.1 1084.6,1148.4 1099.9,1145.8 1115.2,1142.7 1130.5,1138.0 1145.8,1134.5 1161.1,1131.0 1176.4,1131.0 1191.7,1128.4 1207.0,1124.1 1222.3,1123.2 1237.6,1122.3 1252.9,1122.7 1268.2,1123.6 1283.5,1124.5 1298.8,1127.1 1314.1,1130.6 1329.4,1133.6 1344.7,1135.4 1360.0,1134.5 1375.3,1131.0 1390.6,1128.4 1405.9,1124.1 1421.2,1118.8 1436.5,1113.6 1451.9,1108.0 1467.2,1102.3 1482.5,1097.5 1497.8,1094.1 1513.1,1091.5 1528.4,1090.6 1543.7,1091.0 1559.0,1092.3 1574.3,1093.6 1589.6,1092.8 1604.9,1091.0 1620.2,1091.0 1635.5,1092.8 1650.8,1096.2 1666.1,1098.8 1681.4,1102.3 1696.7,1105.8 1712.0,1110.1 1727.3,1115.4 1742.6,1122.3 1757.9,1126.7 1773.2,1126.2 1788.5,1123.6 1803.8,1121.4 1819.1,1120.6 1834.5,1120.6 1849.8,1120.6 1865.1,1118.8 1880.4,1120.6 1895.7,1122.7 1911.0,1124.9 1926.3,1126.7 1941.6,1128.4 1956.9,1129.3 1972.2,1130.6 1987.5,1131.0 2002.8,1133.2 2018.1,1135.4 2033.4,1137.1 2048.7,1138.8 2064.0,1140.6 2079.3,1143.2 2094.6,1145.8 2109.9,1149.3 2125.2,1149.3 2140.5,1146.7 2155.8,1142.7 2171.1,1140.6 2186.4,1144.9 2201.7,1144.5 2217.1,1138.8 2232.4,1138.8 2247.7,1140.6 2263.0,1141.9 2278.3,1141.9 2293.6,1140.6 2308.9,1138.4 2324.2,1134.5 2339.5,1130.1 2354.8,1128.4 2370.1,1132.3 2385.4,1138.0 2400.7,1141.9 2416.0,1141.9 2431.3,1139.7 2446.6,1138.8 2461.9,1138.0 2477.2,1135.8 2492.5,1133.6 2507.8,1130.6 2523.1,1127.1 2538.4,1123.2 2553.7,1120.1 2569.0,1117.5 2584.3,1116.2 2599.7,1115.4 2615.0,1114.5 2630.3,1114.1 2645.6,1115.4 2660.9,1118.0" fill="none" stroke="#0D47A1" stroke-width="5.33" stroke-linejoin="round" stroke-linecap="butt"/>
<path d="M105.10 1155.10V1015.60M472.40 1155.10V1015.60M839.69 1155.10V1015.60M1206.99 1155.10V1015.60M1574.28 1155.10V1015.60M1941.58 1155.10V1015.60M2308.88 1155.10V1015.60" stroke="#CCCCCC" stroke-width="6.2" stroke-dasharray="24.7 24.7" fill="none"/>
</g>
<rect x="80.30" y="1015.60" width="2605.55" height="139.50" fill="none" stroke="#D0D0D0" stroke-width="1.7" stroke-linejoin="round"/>
<text x="1350.77" y="999.80" font-size="26.20" font-weight="700" stroke="#1A1A1A" stroke-width="0.45" fill="#1A1A1A" textLength="66.21" lengthAdjust="spacingAndGlyphs">wind</text>
<text x="54.60" y="1158.45" font-size="21.40" stroke="#4D4D4D" stroke-width="0.35" fill="#4D4D4D" textLength="11.18" lengthAdjust="spacingAndGlyphs">0</text>
<text x="54.59" y="1114.99" font-size="21.40" stroke="#4D4D4D" stroke-width="0.35" fill="#4D4D4D" textLength="11.24" lengthAdjust="spacingAndGlyphs">5</text>
<text x="40.70" y="1071.52" font-size="21.40" stroke="#4D4D4D" stroke-width="0.35" fill="#4D4D4D" textLength="25.20" lengthAdjust="spacingAndGlyphs">10</text>
<text x="40.70" y="1028.06" font-size="21.40" stroke="#4D4D4D" stroke-width="0.35" fill="#4D4D4D" textLength="25.27" lengthAdjust="spacingAndGlyphs">15</text>
</g>
<text x="91.86" y="1184.10" font-size="22.90" stroke="#4D4D4D" stroke-width="0.35" fill="#4D4D4D" textLength="26.07" lengthAdjust="spacingAndGlyphs">00</text>
<text x="73.24" y="1209.20" font-size="22.90" stroke="#4D4D4D" stroke-width="0.35" fill="#4D4D4D" textLength="63.13" lengthAdjust="spacingAndGlyphs">22.03</text>
<text x="137.77" y="1184.10" font-size="22.90" stroke="#4D4D4D" stroke-width="0.35" fill="#4D4D4D" textLength="26.20" lengthAdjust="spacingAndGlyphs">03</text>
<text x="183.68" y="1184.10" font-size="22.90" stroke="#4D4D4D" stroke-width="0.35" fill="#4D4D4D" textLength="26.20" lengthAdjust="spacingAndGlyphs">06</text>
<text x="229.59" y="1184.10" font-size="22.90" stroke="#4D4D4D" stroke-width="0.35" fill="#4D4D4D" textLength="26.26" lengthAdjust="spacingAndGlyphs">09</text>
<text x="274.61" y="1184.10" font-size="22.90" stroke="#4D4D4D" stroke-width="0.35" fill="#4D4D4D" textLength="27.33" lengthAdjust="spacingAndGlyphs">12</text>
<text x="320.54" y="1184.10" font-size="22.90" stroke="#4D4D4D" stroke-width="0.35" fill="#4D4D4D" textLength="27.05" lengthAdjust="spacingAndGlyphs">15</text>
<text x="366.44" y="1184.10" font-size="22.90" stroke="#4D4D4D" stroke-width="0.35" fill="#4D4D4D" textLength="27.12" lengthAdjust="spacingAndGlyphs">18</text>
<text x="412.99" y="1184.10" font-size="22.90" stroke="#4D4D4D" stroke-width="0.35" fill="#4D4D4D" textLength="26.59" lengthAdjust="spacingAndGlyphs">21</text>
<text x="459.16" y="1184.10" font-size="22.90" stroke="#4D4D4D" stroke-width="0.35" fill="#4D4D4D" textLength="26.07" lengthAdjust="spacingAndGlyphs">00</text>
<text x="440.53" y="1209.20" font-size="22.90" stroke="#4D4D4D" stroke-width="0.35" fill="#4D4D4D" textLength="63.13" lengthAdjust="spacingAndGlyphs">23.03</text>
<text x="505.07" y="1184.10" font-size="22.90" stroke="#4D4D4D" stroke-width="0.35" fill="#4D4D4D" textLength="26.20" lengthAdjust="spacingAndGlyphs">03</text>
<text x="550.98" y="1184.10" font-size="22.90" stroke="#4D4D4D" stroke-width="0.35" fill="#4D4D4D" textLength="26.20" lengthAdjust="spacingAndGlyphs">06</text>
<text x="596.89" y="1184.10" font-size="22.90" stroke="#4D4D4D" stroke-width="0.35" fill="#4D4D4D" textLength="26.26" lengthAdjust="spacingAndGlyphs">09</text>
<text x="641.90" y="1184.10" font-size="22.90" stroke="#4D4D4D" stroke-width="0.35" fill="#4D4D4D" textLength="27.33" lengthAdjust="spacingAndGlyphs">12</text>
<text x="687.83" y="1184.10" font-size="22.90" stroke="#4D4D4D" stroke-width="0.35" fill="#4D4D4D" textLength="27.05" lengthAdjust="spacingAndGlyphs">15</text>
<text x="733.74" y="1184.10" font-size="22.90" stroke="#4D4D4D" stroke-width="0.35" fill="#4D4D4D" textLength="27.12" lengthAdjust="spacingAndGlyphs">18</text>
<text x="780.28" y="1184.10" font-size="22.90" stroke="#4D4D4D" stroke-width="0.35" fill="#4D4D4D" textLength="26.59" lengthAdjust="spacingAndGlyphs">21</text>
<text x="826.45" y="1184.10" font-size="22.90" stroke="#4D4D4D" stroke-width="0.35" fill="#4D4D4D" textLength="26.07" lengthAdjust="spacingAndGlyphs">00</text>
<text x="807.83" y="1209.20" font-size="22.90" stroke="#4D4D4D" stroke-width="0.35" fill="#4D4D4D" textLength="63.13" lengthAdjust="spacingAndGlyphs">24.03</text>
<text x="872.36" y="1184.10" font-size="22.90" stroke="#4D4D4D" stroke-width="0.35" fill="#4D4D4D" textLength="26.20" lengthAdjust="spacingAndGlyphs">03</text>
<text x="918.27" y="1184.10" font-size="22.90" stroke="#4D4D4D" stroke-width="0.35" fill="#4D4D4D" textLength="26.20" lengthAdjust="spacingAndGlyphs">06</text>
<text x="964.18" y="1184.10" font-size="22.90" stroke="#4D4D4D" stroke-width="0.35" fill="#4D4D4D" textLength="26.26" lengthAdjust="spacingAndGlyphs">09</text>
<text x="1009.20" y="1184.10" font-size="22.90" stroke="#4D4D4D" stroke-width="0.35" fill="#4D4D4D" textLength="27.33" lengthAdjust="spacingAndGlyphs">12</text>
<text x="1055.13" y="1184.10" font-size="22.90" stroke="#4D4D4D" stroke-width="0.35" fill="#4D4D4D" textLength="27.05" lengthAdjust="spacingAndGlyphs">15</text>
<text x="1101.04" y="1184.10" font-size="22.90" stroke="#4D4D4D" stroke-width="0.35" fill="#4D4D4D" textLength="27.12" lengthAdjust="spacingAndGlyphs">18</text>
<text x="1147.58" y="1184.10" font-size="22.90" stroke="#4D4D4D" stroke-width="0.35" fill="#4D4D4D" textLength="26.59" lengthAdjust="spacingAndGlyphs">21</text>
<text x="1193.75" y="1184.10" font-size="22.90" stroke="#4D4D4D" stroke-width="0.35" fill="#4D4D4D" textLength="26.07" lengthAdjust="spacingAndGlyphs">00</text>
<text x="1175.13" y="1209.20" font-size="22.90" stroke="#4D4D4D" stroke-width="0.35" fill="#4D4D4D" textLength="63.13" lengthAdjust="spacingAndGlyphs">25.03</text>
<text x="1239.66" y="1184.10" font-size="22.90" stroke="#4D4D4D" stroke-width="0.35" fill="#4D4D4D" textLength="26.20" lengthAdjust="spacingAndGlyphs">03</text>
<text x="1285.57" y="1184.10" font-size="22.90" stroke="#4D4D4D" stroke-width="0.35" fill="#4D4D4D" textLength="26.20" lengthAdjust="spacingAndGlyphs">06</text>
<text x="1331.48" y="1184.10" font-size="22.90" stroke="#4D4D4D" stroke-width="0.35" fill="#4D4D4D" textLength="26.26" lengthAdjust="spacingAndGlyphs">09</text>
<text x="1376.49" y="1184.10" font-size="22.90" stroke="#4D4D4D" stroke-width="0.35" fill="#4D4D4D" textLength="27.33" lengthAdjust="spacingAndGlyphs">12</text>
<text x="1422.42" y="1184.10" font-size="22.90" stroke="#4D4D4D" stroke-width="0.35" fill="#4D4D4D" textLength="27.05" lengthAdjust="spacingAndGlyphs">15</text>
<text x="1468.33" y="1184.10" font-size="22.90" stroke="#4D4D4D" stroke-width="0.35" fill="#4D4D4D" textLength="27.12" lengthAdjust="spacingAndGlyphs">18</text>
<text x="1514.88" y="1184.10" font-size="22.90" stroke="#4D4D4D" stroke-width="0.35" fill="#4D4D4D" textLength="26.59" lengthAdjust="spacingAndGlyphs">21</text>
<text x="1561.05" y="1184.10" font-size="22.90" stroke="#4D4D4D" stroke-width="0.35" fill="#4D4D4D" textLength="26.07" lengthAdjust="spacingAndGlyphs">00</text>
<text x="1542.42" y="1209.20" font-size="22.90" stroke="#4D4D4D" stroke-width="0.35" fill="#4D4D4D" textLength="63.13" lengthAdjust="spacingAndGlyphs">26.03</text>
<text x="1606.95" y="1184.10" font-size="22.90" stroke="#4D4D4D" stroke-width="0.35" fill="#4D4D4D" textLength="26.20" lengthAdjust="spacingAndGlyphs">03</text>
<text x="1652.87" y="1184.10" font-size="22.90" stroke="#4D4D4D" stroke-width="0.35" fill="#4D4D4D" textLength="26.20" lengthAdjust="spacingAndGlyphs">06</text>
<text x="1698.78" y="1184.10" font-size="22.90" stroke="#4D4D4D" stroke-width="0.35" fill="#4D4D4D" textLength="26.26" lengthAdjust="spacingAndGlyphs">09</text>
<text x="1743.79" y="1184.10" font-size="22.90" stroke="#4D4D4D" stroke-width="0.35" fill="#4D4D4D" textLength="27.33" lengthAdjust="spacingAndGlyphs">12</text>
<text x="1789.72" y="1184.10" font-size="22.90" stroke="#4D4D4D" stroke-width="0.35" fill="#4D4D4D" textLength="27.05" lengthAdjust="spacingAndGlyphs">15</text>
<text x="1835.63" y="1184.10" font-size="22.90" stroke="#4D4D4D" stroke-width="0.35" fill="#4D4D4D" textLength="27.12" lengthAdjust="spacingAndGlyphs">18</text>
<text x="1882.17" y="1184.10" font-size="22.90" stroke="#4D4D4D" stroke-width="0.35" fill="#4D4D4D" textLength="26.59" lengthAdjust="spacingAndGlyphs">21</text>
<text x="1928.34" y="1184.10" font-size="22.90" stroke="#4D4D4D" stroke-width="0.35" fill="#4D4D4D" textLength="26.07" lengthAdjust="spacingAndGlyphs">00</text>
<text x="1909.72" y="1209.20" font-size="22.90" stroke="#4D4D4D" stroke-width="0.35" fill="#4D4D4D" textLength="63.13" lengthAdjust="spacingAndGlyphs">27.03</text>
<text x="1974.25" y="1184.10" font-size="22.90" stroke="#4D4D4D" stroke-width="0.35" fill="#4D4D4D" textLength="26.20" lengthAdjust="spacingAndGlyphs">03</text>
<text x="2020.16" y="1184.10" font-size="22.90" stroke="#4D4D4D" stroke-width="0.35" fill="#4D4D4D" textLength="26.20" lengthAdjust="spacingAndGlyphs">06</text>
<text x="2066.07" y="1184.10" font-size="22.90" stroke="#4D4D4D" stroke-width="0.35" fill="#4D4D4D" textLength="26.26" lengthAdjust="spacingAndGlyphs">09</text>
<text x="2111.09" y="1184.10" font-size="22.90" stroke="#4D4D4D" stroke-width="0.35" fill="#4D4D4D" textLength="27.33" lengthAdjust="spacingAndGlyphs">12</text>
<text x="2157.02" y="1184.10" font-size="22.90" stroke="#4D4D4D" stroke-width="0.35" fill="#4D4D4D" textLength="27.05" lengthAdjust="spacingAndGlyphs">15</text>
<text x="2202.92" y="1184.10" font-size="22.90" stroke="#4D4D4D" stroke-width="0.35" fill="#4D4D4D" textLength="27.12" lengthAdjust="spacingAndGlyphs">18</text>
<text x="2249.47" y="1184.10" font-size="22.90" stroke="#4D4D4D" stroke-width="0.35" fill="#4D4D4D" textLength="26.59" lengthAdjust="spacingAndGlyphs">21</text>
<text x="2295.64" y="1184.10" font-size="22.90" stroke="#4D4D4D" stroke-width="0.35" fill="#4D4D4D" textLength="26.07" lengthAdjust="spacingAndGlyphs">00</text>
<text x="2277.01" y="1209.20" font-size="22.90" stroke="#4D4D4D" stroke-width="0.35" fill="#4D4D4D" textLength="63.13" lengthAdjust="spacingAndGlyphs">28.03</text>
<text x="2341.55" y="1184.10" font-size="22.90" stroke="#4D4D4D" stroke-width="0.35" fill="#4D4D4D" textLength="26.20" lengthAdjust="spacingAndGlyphs">03</text>
<text x="2387.46" y="1184.10" font-size="22.90" stroke="#4D4D4D" stroke-width="0.35" fill="#4D4D4D" textLength="26.20" lengthAdjust="spacingAndGlyphs">06</text>
<text x="2433.37" y="1184.10" font-size="22.90" stroke="#4D4D4D" stroke-width="0.35" fill="#4D4D4D" textLength="26.26" lengthAdjust="spacingAndGlyphs">09</text>
<text x="2478.38" y="1184.10" font-size="22.90" stroke="#4D4D4D" stroke-width="0.35" fill="#4D4D4D" textLength="27.33" lengthAdjust="spacingAndGlyphs">12</text>
<text x="2524.31" y="1184.10" font-size="22.90" stroke="#4D4D4D" stroke-width="0.35" fill="#4D4D4D" textLength="27.05" lengthAdjust="spacingAndGlyphs">15</text>
<text x="2570.22" y="1184.10" font-size="22.90" stroke="#4D4D4D" stroke-width="0.35" fill="#4D4D4D" textLength="27.12" lengthAdjust="spacingAndGlyphs">18</text>
<text x="2616.76" y="1184.10" font-size="22.90" stroke="#4D4D4D" stroke-width="0.35" fill="#4D4D4D" textLength="26.59" lengthAdjust="spacingAndGlyphs">21</text>
<text x="1304.93" y="1240.60" font-size="28.70" stroke="#000000" stroke-width="0.35" fill="#000000" textLength="71.38" lengthAdjust="spacingAndGlyphs">Часы</text>
<text x="1385.98" y="1240.60" font-size="28.70" stroke="#000000" stroke-width="0.35" fill="#000000" textLength="74.77" lengthAdjust="spacingAndGlyphs">(UTC)</text>
<text x="994.52" y="1312.30" font-size="19.40" stroke="#000000" stroke-width="0.35" fill="#000000" textLength="72.73" lengthAdjust="spacingAndGlyphs">Ветер:</text>
<path d="M1098.4 1304.8H1240.5" stroke="#C62828" stroke-width="5.5" stroke-dasharray="21.5 21.2" fill="none"/>
<text x="1271.37" y="1312.00" font-size="18.60" stroke="#000000" stroke-width="0.35" fill="#000000" textLength="77.45" lengthAdjust="spacingAndGlyphs">Порывы</text>
<text x="1356.67" y="1312.00" font-size="18.60" stroke="#000000" stroke-width="0.35" fill="#000000" textLength="53.24" lengthAdjust="spacingAndGlyphs">ветра</text>
<path d="M1443.6 1304.8H1585.4" stroke="#C62828" stroke-width="5.5" fill="none"/>
<text x="1616.76" y="1312.00" font-size="18.60" stroke="#000000" stroke-width="0.35" fill="#000000" textLength="89.79" lengthAdjust="spacingAndGlyphs">Скорость</text>
<text x="1714.65" y="1312.00" font-size="18.60" stroke="#000000" stroke-width="0.35" fill="#000000" textLength="53.96" lengthAdjust="spacingAndGlyphs">ветра</text>
</svg></body></html>
